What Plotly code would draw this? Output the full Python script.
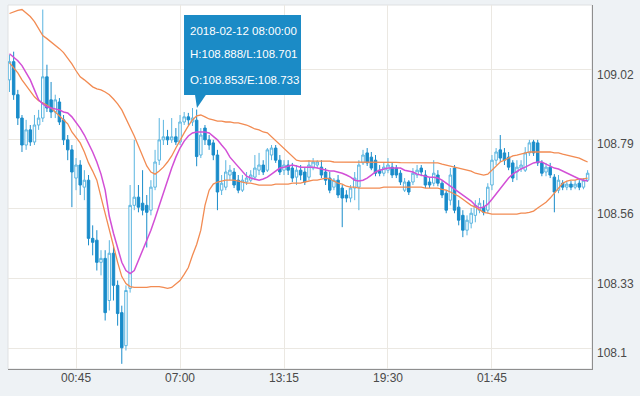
import pandas as pd
import plotly.graph_objects as go

# 15-minute candles, USD/JPY style
times = pd.date_range("2018-02-11 20:45", periods=140, freq="15min")

open_ = [
    108.986, 109.046, 108.937, 108.860, 108.771, 108.821, 108.781, 108.837, 108.860, 108.996,
    108.920, 108.880, 108.913, 108.854, 108.788, 108.755, 108.662, 108.705, 108.632, 108.655,
    108.463, 108.457, 108.384, 108.397, 108.258, 108.414, 108.308, 108.218, 108.109, 108.298,
    108.572, 108.599, 108.579, 108.572, 108.556, 108.632, 108.721, 108.788, 108.798, 108.788,
    108.798, 108.781, 108.847, 108.864, 108.847, 108.853, 108.738, 108.827, 108.788, 108.778,
    108.738, 108.622, 108.632, 108.672, 108.682, 108.655, 108.622, 108.649, 108.655, 108.665,
    108.688, 108.705, 108.688, 108.738, 108.761, 108.721, 108.688, 108.705, 108.695, 108.665,
    108.688, 108.682, 108.665, 108.695, 108.705, 108.698, 108.682, 108.662, 108.632, 108.655,
    108.629, 108.606, 108.596, 108.629, 108.632, 108.712, 108.745, 108.731, 108.721, 108.688,
    108.678, 108.688, 108.698, 108.695, 108.678, 108.622, 108.649, 108.649, 108.672, 108.695,
    108.672, 108.649, 108.645, 108.672, 108.645, 108.612, 108.589, 108.695, 108.566, 108.539,
    108.490, 108.513, 108.539, 108.556, 108.566, 108.556, 108.639, 108.721, 108.755, 108.745,
    108.731, 108.712, 108.682, 108.695, 108.688, 108.745, 108.781, 108.778, 108.712, 108.682,
    108.698, 108.665, 108.622, 108.645, 108.632, 108.642, 108.632, 108.645, 108.632, 108.655,
]
high = [
    109.069, 109.079, 108.953, 108.870, 108.854, 108.837, 108.870, 108.887, 109.218, 109.036,
    108.979, 108.937, 108.926, 108.870, 108.804, 108.771, 108.728, 108.721, 108.688, 108.672,
    108.506, 108.490, 108.424, 108.424, 108.457, 108.440, 108.324, 108.241, 108.308, 108.639,
    108.788, 108.639, 108.688, 108.606, 108.655, 108.755, 108.860, 108.854, 108.821, 108.860,
    108.827, 108.870, 108.880, 108.877, 108.893, 108.888, 108.827, 108.837, 108.804, 108.788,
    108.755, 108.672, 108.721, 108.705, 108.695, 108.672, 108.672, 108.682, 108.688, 108.738,
    108.745, 108.721, 108.761, 108.771, 108.771, 108.738, 108.721, 108.721, 108.712, 108.705,
    108.705, 108.695, 108.721, 108.728, 108.721, 108.721, 108.695, 108.682, 108.662, 108.672,
    108.639, 108.622, 108.639, 108.682, 108.721, 108.755, 108.761, 108.748, 108.738, 108.705,
    108.715, 108.728, 108.715, 108.705, 108.688, 108.662, 108.655, 108.695, 108.705, 108.705,
    108.688, 108.665, 108.721, 108.688, 108.655, 108.622, 108.695, 108.705, 108.589, 108.556,
    108.539, 108.563, 108.589, 108.596, 108.589, 108.645, 108.738, 108.761, 108.804, 108.761,
    108.748, 108.721, 108.721, 108.721, 108.764, 108.788, 108.788, 108.788, 108.721, 108.712,
    108.712, 108.675, 108.672, 108.655, 108.652, 108.652, 108.655, 108.655, 108.662, 108.688,
]
low = [
    108.946, 108.920, 108.837, 108.748, 108.755, 108.768, 108.771, 108.821, 108.847, 108.880,
    108.860, 108.860, 108.837, 108.771, 108.721, 108.566, 108.622, 108.606, 108.589, 108.440,
    108.407, 108.357, 108.341, 108.192, 108.225, 108.258, 108.175, 108.049, 108.093, 108.284,
    108.556, 108.549, 108.539, 108.433, 108.539, 108.622, 108.705, 108.771, 108.771, 108.778,
    108.771, 108.771, 108.837, 108.837, 108.834, 108.701, 108.728, 108.771, 108.755, 108.721,
    108.556, 108.606, 108.622, 108.655, 108.629, 108.612, 108.616, 108.639, 108.649, 108.655,
    108.672, 108.672, 108.682, 108.721, 108.712, 108.672, 108.672, 108.672, 108.649, 108.639,
    108.655, 108.639, 108.655, 108.688, 108.695, 108.662, 108.639, 108.612, 108.622, 108.596,
    108.500, 108.582, 108.582, 108.589, 108.556, 108.705, 108.702, 108.688, 108.668, 108.668,
    108.668, 108.678, 108.662, 108.662, 108.639, 108.616, 108.606, 108.639, 108.662, 108.668,
    108.629, 108.629, 108.635, 108.635, 108.596, 108.546, 108.572, 108.546, 108.506, 108.467,
    108.473, 108.496, 108.516, 108.546, 108.539, 108.546, 108.622, 108.705, 108.715, 108.705,
    108.688, 108.649, 108.655, 108.682, 108.682, 108.735, 108.735, 108.702, 108.668, 108.668,
    108.662, 108.549, 108.612, 108.622, 108.622, 108.622, 108.625, 108.622, 108.625, 108.649,
]
close = [
    109.046, 108.937, 108.860, 108.771, 108.821, 108.781, 108.837, 108.860, 108.996, 108.893,
    108.880, 108.920, 108.847, 108.788, 108.755, 108.682, 108.705, 108.639, 108.655, 108.463,
    108.450, 108.384, 108.397, 108.218, 108.414, 108.308, 108.215, 108.102, 108.291, 108.572,
    108.599, 108.566, 108.556, 108.549, 108.632, 108.715, 108.788, 108.798, 108.788, 108.798,
    108.781, 108.847, 108.864, 108.854, 108.860, 108.733, 108.804, 108.788, 108.771, 108.738,
    108.616, 108.645, 108.682, 108.688, 108.639, 108.622, 108.655, 108.662, 108.672, 108.695,
    108.705, 108.682, 108.755, 108.761, 108.721, 108.682, 108.705, 108.688, 108.662, 108.688,
    108.672, 108.649, 108.705, 108.715, 108.715, 108.672, 108.655, 108.622, 108.655, 108.606,
    108.596, 108.596, 108.629, 108.662, 108.705, 108.738, 108.712, 108.695, 108.678, 108.678,
    108.698, 108.705, 108.672, 108.672, 108.649, 108.649, 108.616, 108.678, 108.688, 108.682,
    108.639, 108.639, 108.678, 108.645, 108.606, 108.556, 108.672, 108.556, 108.523, 108.490,
    108.523, 108.546, 108.572, 108.579, 108.549, 108.632, 108.721, 108.748, 108.728, 108.721,
    108.698, 108.662, 108.698, 108.705, 108.745, 108.778, 108.745, 108.712, 108.678, 108.698,
    108.672, 108.616, 108.655, 108.632, 108.642, 108.632, 108.642, 108.632, 108.655, 108.678,
]

# Bollinger band (upper / lower) and moving average, read per candle
bb_upper = [
    109.205, 109.211, 109.215, 109.218, 109.208, 109.195, 109.178, 109.155, 109.132, 109.122,
    109.112, 109.102, 109.089, 109.076, 109.059, 109.039, 109.016, 108.996, 108.986, 108.973,
    108.963, 108.956, 108.953, 108.946, 108.937, 108.923, 108.907, 108.887, 108.860, 108.831,
    108.801, 108.768, 108.735, 108.702, 108.682, 108.675, 108.685, 108.698, 108.715, 108.735,
    108.761, 108.788, 108.811, 108.834, 108.854, 108.867, 108.870, 108.864, 108.857, 108.854,
    108.850, 108.850, 108.847, 108.847, 108.844, 108.844, 108.841, 108.837, 108.831, 108.824,
    108.821, 108.814, 108.811, 108.798, 108.784, 108.771, 108.758, 108.745, 108.731, 108.721,
    108.718, 108.719, 108.719, 108.718, 108.718, 108.717, 108.718, 108.718, 108.715, 108.715,
    108.715, 108.716, 108.715, 108.715, 108.715, 108.714, 108.715, 108.715, 108.715, 108.715,
    108.715, 108.715, 108.714, 108.714, 108.713, 108.713, 108.712, 108.712, 108.712, 108.712,
    108.712, 108.712, 108.712, 108.712, 108.708, 108.705, 108.702, 108.698, 108.695, 108.692,
    108.688, 108.685, 108.678, 108.675, 108.672, 108.675, 108.688, 108.702, 108.715, 108.721,
    108.728, 108.735, 108.738, 108.741, 108.745, 108.748, 108.748, 108.748, 108.748, 108.748,
    108.748, 108.745, 108.745, 108.741, 108.738, 108.735, 108.731, 108.728, 108.721, 108.715,
]
ma = [
    109.072, 109.062, 109.049, 109.033, 109.009, 108.986, 108.953, 108.920, 108.907, 108.897,
    108.893, 108.890, 108.887, 108.880, 108.877, 108.864, 108.847, 108.827, 108.804, 108.778,
    108.748, 108.715, 108.675, 108.622, 108.536, 108.480, 108.427, 108.384, 108.357, 108.347,
    108.357, 108.390, 108.424, 108.457, 108.490, 108.529, 108.572, 108.616, 108.655, 108.695,
    108.731, 108.761, 108.784, 108.801, 108.811, 108.814, 108.814, 108.814, 108.811, 108.801,
    108.788, 108.771, 108.755, 108.731, 108.715, 108.698, 108.685, 108.668, 108.662, 108.659,
    108.655, 108.659, 108.665, 108.675, 108.685, 108.695, 108.698, 108.702, 108.705, 108.702,
    108.698, 108.698, 108.698, 108.698, 108.695, 108.692, 108.688, 108.685, 108.685, 108.682,
    108.678, 108.672, 108.665, 108.655, 108.652, 108.655, 108.662, 108.672, 108.682, 108.688,
    108.692, 108.695, 108.695, 108.695, 108.695, 108.688, 108.685, 108.682, 108.675, 108.672,
    108.668, 108.665, 108.665, 108.662, 108.655, 108.645, 108.635, 108.625, 108.616, 108.606,
    108.596, 108.586, 108.572, 108.563, 108.566, 108.576, 108.592, 108.609, 108.629, 108.645,
    108.662, 108.675, 108.685, 108.692, 108.698, 108.705, 108.712, 108.715, 108.715, 108.708,
    108.702, 108.695, 108.692, 108.685, 108.678, 108.672, 108.665, 108.659, 108.655, 108.652,
]
bb_lower = [
    109.042, 109.026, 109.009, 108.986, 108.966, 108.950, 108.930, 108.917, 108.910, 108.903,
    108.893, 108.880, 108.867, 108.854, 108.841, 108.814, 108.794, 108.778, 108.748, 108.712,
    108.685, 108.655, 108.599, 108.543, 108.487, 108.433, 108.384, 108.337, 108.314, 108.304,
    108.301, 108.301, 108.301, 108.301, 108.304, 108.304, 108.304, 108.301, 108.298, 108.301,
    108.311, 108.324, 108.344, 108.367, 108.407, 108.443, 108.490, 108.572, 108.622, 108.642,
    108.649, 108.652, 108.655, 108.655, 108.655, 108.652, 108.649, 108.645, 108.645, 108.642,
    108.639, 108.639, 108.639, 108.639, 108.642, 108.642, 108.642, 108.642, 108.645, 108.645,
    108.645, 108.649, 108.652, 108.655, 108.655, 108.659, 108.662, 108.659, 108.652, 108.645,
    108.642, 108.635, 108.632, 108.632, 108.629, 108.629, 108.629, 108.629, 108.629, 108.629,
    108.632, 108.632, 108.632, 108.632, 108.632, 108.632, 108.632, 108.632, 108.632, 108.632,
    108.629, 108.629, 108.629, 108.629, 108.625, 108.622, 108.616, 108.609, 108.602, 108.592,
    108.582, 108.572, 108.566, 108.556, 108.549, 108.546, 108.543, 108.543, 108.543, 108.543,
    108.543, 108.543, 108.543, 108.546, 108.546, 108.549, 108.553, 108.563, 108.572, 108.582,
    108.596, 108.612, 108.629, 108.645, 108.652, 108.655, 108.655, 108.659, 108.659, 108.662,
]

ytick_vals = [108.1, 108.33, 108.56, 108.79, 109.02]
ytick_text = ["108.1", "108.33", "108.56", "108.79", "109.02"]
xtick_vals = ["2018-02-12 00:45", "2018-02-12 07:00", "2018-02-12 13:15",
              "2018-02-12 19:30", "2018-02-13 01:45"]
xtick_text = ["00:45", "07:00", "13:15", "19:30", "01:45"]

tooltip_lines = ["2018-02-12 08:00:00", "H:108.888/L:108.701", "O:108.853/E:108.733"]

FONT = "Liberation Sans, Arial, sans-serif"
BAND = "#f28b52"
MA_C = "#d24fd6"
UP = "#5ab5e0"
DOWN = "#1a8cca"
TIP = "#1b8bc6"

fig = go.Figure()
fig.add_trace(go.Candlestick(
    x=times, open=open_, high=high, low=low, close=close,
    increasing=dict(line=dict(color=UP, width=1), fillcolor="#ffffff"),
    decreasing=dict(line=dict(color=DOWN, width=1), fillcolor=DOWN),
    whiskerwidth=0, showlegend=False, hoverinfo="skip",
))
fig.add_trace(go.Scatter(x=times, y=bb_upper, mode="lines",
                         line=dict(color=BAND, width=1.3), showlegend=False, hoverinfo="skip"))
fig.add_trace(go.Scatter(x=times, y=bb_lower, mode="lines",
                         line=dict(color=BAND, width=1.3), showlegend=False, hoverinfo="skip"))
fig.add_trace(go.Scatter(x=times, y=ma, mode="lines",
                         line=dict(color=MA_C, width=1.5), showlegend=False, hoverinfo="skip"))

# plot border (light) on top/left
fig.add_shape(type="rect", xref="paper", yref="paper", x0=0, x1=1, y0=0, y1=1,
              line=dict(color="#dfe1e2", width=1), layer="below")

# tooltip box with pointer
fig.add_shape(type="rect", xref="paper", yref="paper",
              x0=0.3014, x1=0.5017, y0=0.7527, y1=0.9725,
              fillcolor=TIP, line=dict(width=0))
fig.add_shape(type="path", xref="paper", yref="paper",
              path="M 0.3202,0.7537 L 0.3390,0.7537 L 0.3236,0.7170 Z",
              fillcolor=TIP, line=dict(width=0))
for txt, yy in zip(tooltip_lines, [0.9286, 0.8654, 0.7940]):
    fig.add_annotation(x=0.3082, y=yy, xref="paper", yref="paper", text=txt,
                       showarrow=False, xanchor="left", yanchor="middle",
                       font=dict(family=FONT, size=11.5, color="#ffffff"))

# y tick labels (sit slightly below their grid lines)
for v, t in zip(ytick_vals, ytick_text):
    fig.add_annotation(x=1, y=v, xref="paper", yref="y", text=t, showarrow=False,
                       xanchor="left", yanchor="middle", xshift=3, yshift=-5,
                       font=dict(family=FONT, size=12, color="#4a4a4a"))

fig.update_layout(
    width=640, height=396,
    margin=dict(l=8, r=48, t=5, b=27),
    paper_bgcolor="#eef2f5", plot_bgcolor="#ffffff",
    font=dict(family=FONT, size=12, color="#555555"),
    hovermode=False, boxgap=0.15,
    xaxis=dict(
        type="date", range=["2018-02-11 20:39:36", "2018-02-13 07:45:48"],
        tickmode="array", tickvals=xtick_vals, ticktext=xtick_text,
        showgrid=True, gridcolor="#ebe8e2", gridwidth=1,
        showline=True, linecolor="#8e8e8e", linewidth=1,
        ticks="", zeroline=False, rangeslider=dict(visible=False),
        tickfont=dict(family=FONT, size=12, color="#4a4a4a"),
        ticklabelstandoff=-2,
    ),
    yaxis=dict(
        side="right", range=[108.032, 109.233],
        tickmode="array", tickvals=ytick_vals, showticklabels=False,
        showgrid=True, gridcolor="#ebe8e2", gridwidth=1,
        showline=True, linecolor="#8e8e8e", linewidth=1,
        ticks="", zeroline=False,
    ),
)

fig.write_html("out.html", config={"displayModeBar": False, "staticPlot": True},
               post_script="document.body.style.margin='0';")
